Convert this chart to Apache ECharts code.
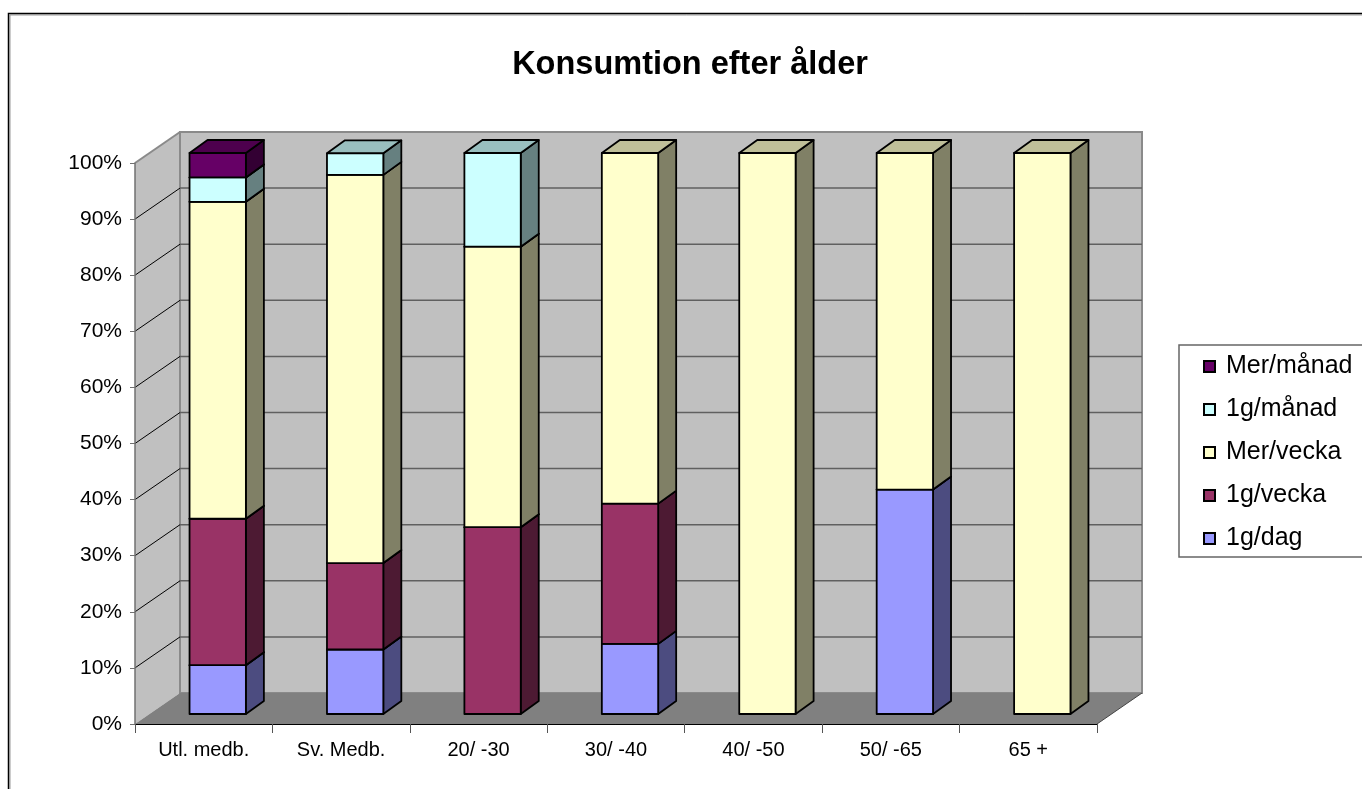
<!DOCTYPE html>
<html>
<head>
<meta charset="utf-8">
<title>Konsumtion efter ålder</title>
<script src="https://cdn.jsdelivr.net/npm/echarts@6/dist/echarts.min.js"></script>
<style>
  html, body { margin: 0; padding: 0; background: #fff; }
  #chart { width: 1362px; height: 789px; }
</style>
</head>
<body>
<div id="chart"></div>
<script>
// categories and shares (percent)
const categories = ['Utl. medb.', 'Sv. Medb.', '20/ -30', '30/ -40', '40/ -50', '50/ -65', '65 +'];
const dagPerDag = [8.7, 11.5, 0, 12.5, 0, 40, 0];
const gangVecka = [26.1, 15.4, 33.3, 25, 0, 0, 0];
const merVecka = [56.5, 69.2, 50, 62.5, 100, 60, 100];
const gangManad = [4.35, 3.85, 16.7, 0, 0, 0, 0];
const merManad = [4.35, 0, 0, 0, 0, 0, 0];
const yTicks = [0, 10, 20, 30, 40, 50, 60, 70, 80, 90, 100];

const FONT = '"Liberation Sans", Arial, sans-serif';

// stacking order bottom -> top
const layers = [
  { name: '1g/dag', values: dagPerDag, front: '#9999FF', side: '#4C4C80', top: '#7373BF' },
  { name: '1g/vecka', values: gangVecka, front: '#993366', side: '#4D1A33', top: '#73264D' },
  { name: 'Mer/vecka', values: merVecka, front: '#FFFFCC', side: '#808066', top: '#BFBF99' },
  { name: '1g/månad', values: gangManad, front: '#CCFFFF', side: '#668080', top: '#99BFBF' },
  { name: 'Mer/månad', values: merManad, front: '#660066', side: '#330033', top: '#4D004D' }
];

// wall depth and bar placement in pixels (fake 3d)
const WALL_DX = 45, WALL_DY = -31;
const BAR_DX = 14, BAR_DY = -10;
const BOX_DX = 18, BOX_DY = -13;
const BAR_W = 0.41;

function renderWalls(params, api) {
  const cs = params.coordSys;
  const x = cs.x, y = cs.y, w = cs.width, h = cs.height;
  const kids = [];
  kids.push({ type: 'polygon', shape: { points: [[x, y], [x + WALL_DX, y + WALL_DY], [x + WALL_DX, y + h + WALL_DY], [x, y + h]] },
    style: { fill: '#C0C0C0' } });
  kids.push({ type: 'rect', shape: { x: x + WALL_DX, y: y + WALL_DY, width: w, height: h },
    style: { fill: '#C0C0C0', stroke: '#8A8A8A', lineWidth: 2 } });
  yTicks.forEach(function (v) {
    if (v === 0) return;
    const py = api.coord([0, v])[1];
    if (v !== 100) {
      kids.push({ type: 'line', shape: { x1: x + WALL_DX, y1: py + WALL_DY, x2: x + w + WALL_DX, y2: py + WALL_DY },
        style: { stroke: '#606060', lineWidth: 1.5 } });
    }
    kids.push({ type: 'line', shape: { x1: x, y1: py, x2: x + WALL_DX, y2: py + WALL_DY },
      style: v === 100 ? { stroke: '#8A8A8A', lineWidth: 2 } : { stroke: '#000', lineWidth: 1 } });
  });
  kids.push({ type: 'polygon', shape: { points: [[x, y + h], [x + w, y + h], [x + w + WALL_DX, y + h + WALL_DY], [x + WALL_DX, y + h + WALL_DY]] },
    style: { fill: '#808080' } });
  kids.push({ type: 'line', shape: { x1: x + w, y1: y + h, x2: x + w + WALL_DX, y2: y + h + WALL_DY },
    style: { stroke: '#444', lineWidth: 1 } });
  return { type: 'group', children: kids };
}

function makeBoxRenderer(layer) {
  return function (params, api) {
    const lo = api.value(1), hi = api.value(2);
    if (hi - lo <= 0) return;
    const pLo = api.coord([api.value(0), lo]);
    const pHi = api.coord([api.value(0), hi]);
    const w = api.size([1, 0])[0] * BAR_W;
    const x0 = pLo[0] - w / 2 + BAR_DX, x1 = x0 + w;
    const yb = pLo[1] + BAR_DY, yt = pHi[1] + BAR_DY;
    const line = { stroke: '#000', lineWidth: 1.8, lineJoin: 'round' };
    return {
      type: 'group',
      children: [
        { type: 'polygon', shape: { points: [[x1, yb], [x1 + BOX_DX, yb + BOX_DY], [x1 + BOX_DX, yt + BOX_DY], [x1, yt]] },
          style: Object.assign({ fill: layer.side }, line) },
        { type: 'polygon', shape: { points: [[x0, yt], [x1, yt], [x1 + BOX_DX, yt + BOX_DY], [x0 + BOX_DX, yt + BOX_DY]] },
          style: Object.assign({ fill: layer.top }, line) },
        { type: 'rect', shape: { x: x0, y: yt, width: w, height: yb - yt },
          style: Object.assign({ fill: layer.front }, line) }
      ]
    };
  };
}

const base = categories.map(function () { return 0; });
const barSeries = layers.map(function (layer) {
  const data = layer.values.map(function (v, i) {
    const row = [i, base[i], base[i] + v];
    base[i] += v;
    return row;
  });
  return {
    type: 'custom',
    name: layer.name,
    renderItem: makeBoxRenderer(layer),
    itemStyle: { color: layer.front, borderColor: '#000', borderWidth: 1 },
    encode: { x: 0, y: 2 },
    data: data,
    silent: true
  };
});

const chart = echarts.init(document.getElementById('chart'));
chart.setOption({
  animation: false,
  backgroundColor: '#fff',
  title: {
    text: 'Konsumtion efter ålder',
    left: 685,
    textAlign: 'center',
    top: 44,
    textStyle: { fontFamily: FONT, fontSize: 32.5, fontWeight: 'bold', color: '#000' }
  },
  legend: {
    orient: 'vertical',
    left: 1179,
    top: 345,
    padding: [9, 40, 6, 24],
    borderColor: '#666',
    borderWidth: 1.5,
    backgroundColor: '#fff',
    itemWidth: 11,
    itemHeight: 11,
    itemGap: 18,
    icon: 'rect',
    data: ['Mer/månad', '1g/månad', 'Mer/vecka', '1g/vecka', '1g/dag'],
    textStyle: { fontFamily: FONT, fontSize: 25, lineHeight: 24, color: '#000', padding: [0, 0, 0, 6] }
  },
  grid: { left: 135, right: 265, top: 163, bottom: 65 },
  xAxis: {
    type: 'category',
    data: categories,
    z: 10,
    axisLine: { lineStyle: { color: '#000', width: 1 } },
    axisTick: { show: true, interval: 0, length: 9, lineStyle: { color: '#555' } },
    axisLabel: { fontFamily: FONT, fontSize: 20, color: '#000', margin: 16, interval: 0 },
    splitLine: { show: false }
  },
  yAxis: {
    type: 'value',
    min: 0,
    max: 100,
    interval: 10,
    z: 10,
    axisLine: { show: true, lineStyle: { color: '#707070', width: 1.5 } },
    axisTick: { show: true, length: 5, lineStyle: { color: '#707070' } },
    axisLabel: { fontFamily: FONT, fontSize: 21, color: '#000', margin: 13, formatter: '{value}%' },
    splitLine: { show: false }
  },
  graphic: [
    { type: 'rect', shape: { x: 10, y: 15, width: 1400, height: 800 }, style: { fill: 'none', stroke: '#999', lineWidth: 1 }, z: 100 },
    { type: 'rect', shape: { x: 8.5, y: 13.5, width: 1400, height: 800 }, style: { fill: 'none', stroke: '#000', lineWidth: 1.5 }, z: 100 }
  ],
  series: [
    { type: 'custom', name: 'walls', renderItem: renderWalls, data: [[0, 0]], silent: true, encode: { x: 0, y: 1 } }
  ].concat(barSeries)
});
</script>
</body>
</html>
